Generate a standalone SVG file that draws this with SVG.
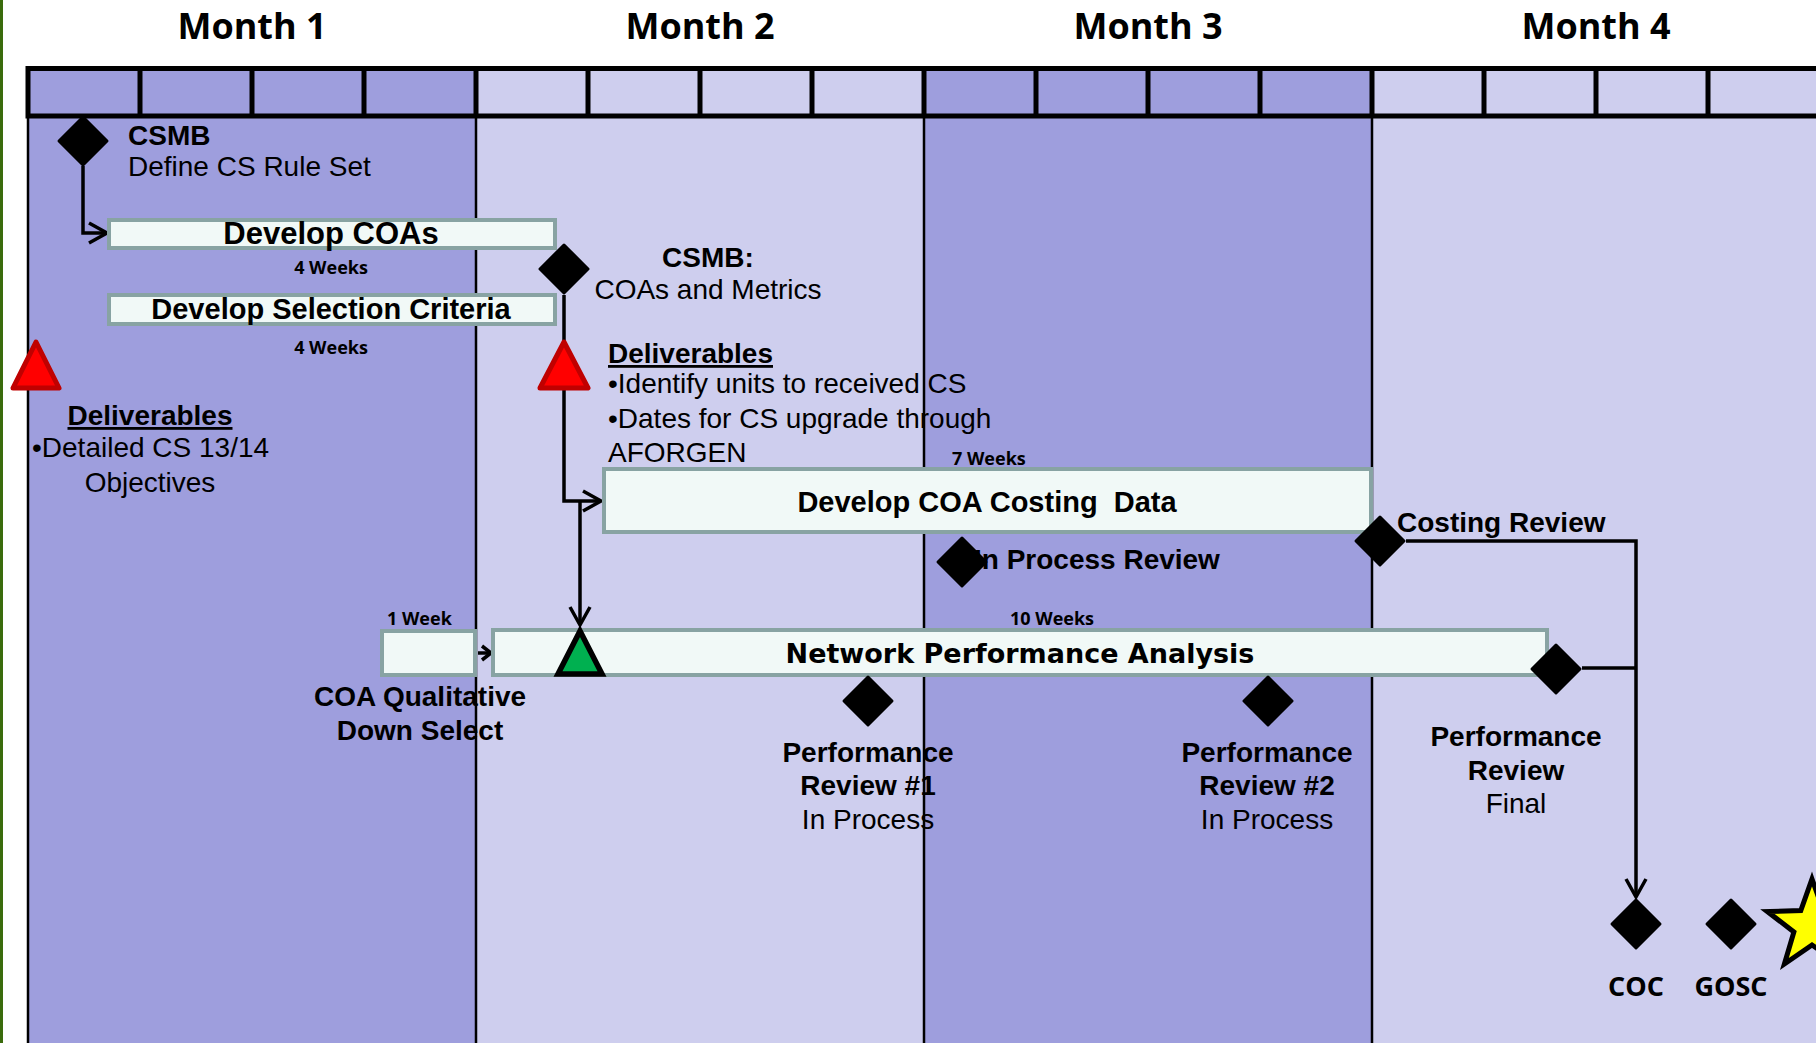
<svg xmlns="http://www.w3.org/2000/svg" xmlns:xlink="http://www.w3.org/1999/xlink" width="1816" height="1043" viewBox="0 0 1816 1043">
<style>
.b{font-family:"Liberation Sans",Arial,sans-serif;font-weight:bold;font-size:28px;fill:#000}
.r{font-family:"Liberation Sans",Arial,sans-serif;font-size:28px;fill:#000}
.v{font-family:"DejaVu Sans",Verdana,sans-serif;font-weight:bold;font-size:27px;fill:#000}
.w{font-family:"Open Sans",sans-serif;font-weight:bold;font-size:18px;fill:#000}
.m{font-family:"Open Sans",sans-serif;font-weight:bold;font-size:36px;fill:#000}
.k{font-family:"Open Sans",sans-serif;font-weight:bold;font-size:27px;fill:#000}
.c{text-anchor:middle}
.u{text-decoration:underline}
.box{fill:#F1F9F7;stroke:#88A3A3;stroke-width:4}
.dia{fill:#000;stroke:#000;stroke-width:3;stroke-linejoin:round}
.red{fill:#FF0000;stroke:#C00000;stroke-width:5;stroke-linejoin:round}
.con{fill:none;stroke:#000;stroke-width:3.5}
.grid{stroke:#000;stroke-width:2.5}
.hdr{stroke:#000;stroke-width:5;fill:none}
.dk{fill:#9E9EDD}
.lt{fill:#CECEEE}
</style>
<defs>
<path id="dm" d="M0,-24 L24,0 L0,24 L-24,0 Z"/>
<marker id="arr" markerUnits="userSpaceOnUse" markerWidth="26" markerHeight="26" viewBox="0 0 26 26" refX="21" refY="13" orient="auto">
<path d="M3,3 L21,13 L3,23" fill="none" stroke="#000" stroke-width="3.5"/>
</marker>
<marker id="arrs" markerUnits="userSpaceOnUse" markerWidth="16" markerHeight="18" viewBox="0 0 16 18" refX="12" refY="9" orient="auto">
<path d="M3,2 L12,9 L3,16" fill="none" stroke="#000" stroke-width="3.5"/>
</marker>
</defs>

<g id="background">
<rect x="0" y="0" width="1816" height="1043" fill="#FFFFFF"/>
<rect x="0" y="0" width="3" height="1043" fill="#3A6B0C"/>
<rect class="dk" x="28" y="68" width="448" height="975"/>
<rect class="lt" x="476" y="68" width="448" height="975"/>
<rect class="dk" x="924" y="68" width="448" height="975"/>
<rect class="lt" x="1372" y="68" width="444" height="975"/>
<path class="grid" d="M28,116 V1043 M476,116 V1043 M924,116 V1043 M1372,116 V1043"/>
<path class="hdr" d="M26,68.5 H1816 M26,116 H1816 M28,66 V118.5 M140,66 V118.5 M252,66 V118.5 M364,66 V118.5 M476,66 V118.5 M588,66 V118.5 M700,66 V118.5 M812,66 V118.5 M924,66 V118.5 M1036,66 V118.5 M1148,66 V118.5 M1260,66 V118.5 M1372,66 V118.5 M1484,66 V118.5 M1596,66 V118.5 M1708,66 V118.5"/>
</g>

<g id="months">
<text class="m c" x="252" y="39">Month 1</text>
<text class="m c" x="700" y="39">Month 2</text>
<text class="m c" x="1148" y="39">Month 3</text>
<text class="m c" x="1596" y="39">Month 4</text>
</g>

<g id="connectors">
<path class="con" d="M83,166 V233 H107" marker-end="url(#arr)"/>
<path class="con" d="M564,295 V501 H601" marker-end="url(#arr)"/>
<path class="con" d="M580,501 V625" marker-end="url(#arr)"/>
<path class="con" d="M478,653 H491" marker-end="url(#arrs)"/>
<path class="con" d="M1406,541 H1636 V897" marker-end="url(#arr)"/>
<path class="con" d="M1582,668 H1636"/>
</g>

<g id="n-csmb1">
<use href="#dm" class="dia" x="83" y="141"/>
<text class="b" x="128" y="145">CSMB</text>
<text class="r" x="128" y="176">Define CS Rule Set</text>
</g>

<g id="n-develop-coas">
<rect class="box" x="109" y="220" width="446" height="28"/>
<text class="b c" x="331" y="244" style="font-size:31px">Develop COAs</text>
<text class="w c" x="331" y="274">4 Weeks</text>
</g>

<g id="n-develop-selection">
<rect class="box" x="109" y="295" width="446" height="29"/>
<text class="b c" x="331" y="319" style="font-size:29px">Develop Selection Criteria</text>
<text class="w c" x="331" y="354">4 Weeks</text>
</g>

<g id="n-deliverables1">
<polygon class="red" points="36,342 59,388 13,388"/>
<text class="b c u" x="150" y="425">Deliverables</text>
<text class="r" x="32" y="457">•Detailed CS 13/14</text>
<text class="r c" x="150" y="492">Objectives</text>
</g>

<g id="n-csmb2">
<use href="#dm" class="dia" x="564" y="269"/>
<text class="b c" x="708" y="267">CSMB:</text>
<text class="r c" x="708" y="299">COAs and Metrics</text>
</g>

<g id="n-deliverables2">
<polygon class="red" points="564,342 588,388 540,388"/>
<text class="b u" x="608" y="363">Deliverables</text>
<text class="r" x="608" y="393">•Identify units to received CS</text>
<text class="r" x="608" y="428">•Dates for CS upgrade through</text>
<text class="r" x="608" y="462">AFORGEN</text>
</g>

<g id="n-costing-data">
<text class="w" x="952" y="465">7 Weeks</text>
<rect class="box" x="604" y="469" width="767" height="63"/>
<text class="b c" x="987" y="512" xml:space="preserve" style="font-size:29px;white-space:pre">Develop COA Costing  Data</text>
</g>

<g id="n-in-process-review">
<text class="b" x="974" y="569">In Process Review</text>
<use href="#dm" class="dia" x="962" y="562"/>
</g>

<g id="n-costing-review">
<text class="b" x="1397" y="532">Costing Review</text>
<use href="#dm" class="dia" x="1380" y="541"/>
</g>

<g id="n-coa-qualitative">
<text class="w" x="387" y="625">1 Week</text>
<rect class="box" x="382" y="631" width="93" height="44"/>
<text class="b c" x="420" y="706">COA Qualitative</text>
<text class="b c" x="420" y="740">Down Select</text>
</g>

<g id="n-network-analysis">
<text class="w" x="1010" y="625">10 Weeks</text>
<rect class="box" x="493" y="630" width="1054" height="45"/>
<text class="v c" x="1020" y="663">Network Performance Analysis</text>
</g>

<g id="n-green-start">
<polygon points="580,631 602,674 558,674" fill="#00B050" stroke="#000" stroke-width="5.5" stroke-linejoin="miter"/>
</g>

<g id="n-perf-review1">
<use href="#dm" class="dia" x="868" y="701"/>
<text class="b c" x="868" y="762">Performance</text>
<text class="b c" x="868" y="795">Review #1</text>
<text class="r c" x="868" y="829">In Process</text>
</g>

<g id="n-perf-review2">
<use href="#dm" class="dia" x="1268" y="701"/>
<text class="b c" x="1267" y="762">Performance</text>
<text class="b c" x="1267" y="795">Review #2</text>
<text class="r c" x="1267" y="829">In Process</text>
</g>

<g id="n-perf-review-final">
<use href="#dm" class="dia" x="1556" y="669"/>
<text class="b c" x="1516" y="746">Performance</text>
<text class="b c" x="1516" y="780">Review</text>
<text class="r c" x="1516" y="813">Final</text>
</g>

<g id="n-coc">
<use href="#dm" class="dia" x="1636" y="924"/>
<text class="k c" x="1636" y="996">COC</text>
</g>

<g id="n-gosc">
<use href="#dm" class="dia" x="1731" y="924"/>
<text class="k c" x="1731" y="996">GOSC</text>
</g>

<g id="n-star">
<polygon points="1812,879 1823.2,910.6 1856.7,911.5 1830.1,931.9 1839.6,964 1812,945 1784.4,964 1793.9,931.9 1767.3,911.5 1800.8,910.6" fill="#FFFF00" stroke="#000" stroke-width="5"/>
</g>
</svg>
